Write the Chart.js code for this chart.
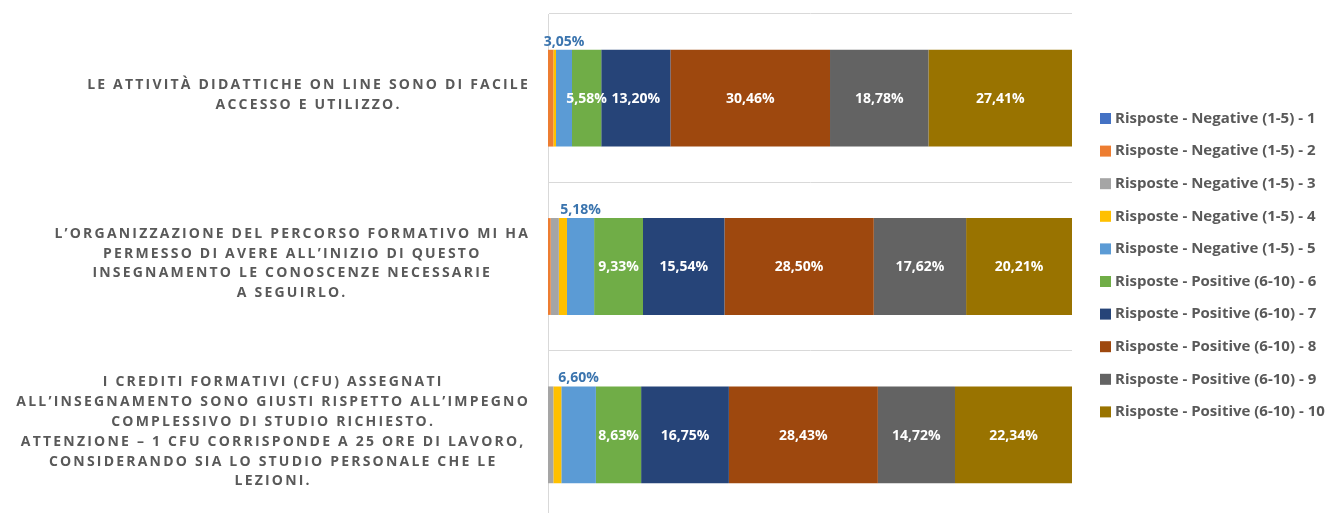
<!DOCTYPE html>
<html>
<head>
<meta charset="utf-8">
<script src="https://cdn.jsdelivr.net/npm/chart.js@4.4.0/dist/chart.umd.min.js"></script>
<style>
  html, body { margin: 0; padding: 0; background: #fff; overflow: hidden; }
  #wrap { width: 1332px; height: 519px; }
</style>
</head>
<body>
<div id="wrap"><canvas id="barchart"></canvas></div>
<script>
// Questions (one entry per line of the label)
const categories = [
  ['LE ATTIVITÀ DIDATTICHE ON LINE SONO DI FACILE', 'ACCESSO E UTILIZZO.'],
  ['L’ORGANIZZAZIONE DEL PERCORSO FORMATIVO MI HA', 'PERMESSO DI AVERE ALL’INIZIO DI QUESTO', 'INSEGNAMENTO LE CONOSCENZE NECESSARIE', 'A SEGUIRLO.'],
  ['I CREDITI FORMATIVI (CFU) ASSEGNATI', 'ALL’INSEGNAMENTO SONO GIUSTI RISPETTO ALL’IMPEGNO', 'COMPLESSIVO DI STUDIO RICHIESTO.', 'ATTENZIONE – 1 CFU CORRISPONDE A 25 ORE DI LAVORO,', 'CONSIDERANDO SIA LO STUDIO PERSONALE CHE LE', 'LEZIONI.']
];

const seriesNames = [
  'Risposte - Negative (1-5) - 1',
  'Risposte - Negative (1-5) - 2',
  'Risposte - Negative (1-5) - 3',
  'Risposte - Negative (1-5) - 4',
  'Risposte - Negative (1-5) - 5',
  'Risposte - Positive (6-10) - 6',
  'Risposte - Positive (6-10) - 7',
  'Risposte - Positive (6-10) - 8',
  'Risposte - Positive (6-10) - 9',
  'Risposte - Positive (6-10) - 10'
];

const seriesColors = ['#4472C4', '#ED7D31', '#A5A5A5', '#FFC000', '#5B9BD5', '#70AD47', '#264478', '#9E480E', '#636363', '#997300'];

// Percentages per score, one value per question
const score1 = [0, 0, 0];
const score2 = [1.02, 0.52, 0];
const score3 = [0, 1.55, 1.02];
const score4 = [0.51, 1.55, 1.52];
const score5 = [3.05, 5.18, 6.60];
const score6 = [5.58, 9.33, 8.63];
const score7 = [13.20, 15.54, 16.75];
const score8 = [30.46, 28.50, 28.43];
const score9 = [18.78, 17.62, 14.72];
const score10 = [27.41, 20.21, 22.34];

const seriesValues = [score1, score2, score3, score4, score5, score6, score7, score8, score9, score10];

const fmt = v => v.toFixed(2).replace('.', ',') + '%';

// value labels: score 5 above the bar, scores 6-10 inside
const valueLabels = {
  id: 'valueLabels',
  afterDatasetsDraw(chart) {
    const ctx = chart.ctx;
    ctx.save();
    ctx.font = 'bold 14px "Open Sans"';
    ctx.textAlign = 'center';
    chart.data.datasets.forEach((ds, di) => {
      if (di < 4) return;
      const meta = chart.getDatasetMeta(di);
      meta.data.forEach((bar, i) => {
        const cx = (bar.x + bar.base) / 2;
        if (di === 4) {
          ctx.fillStyle = '#3A74AE';
          ctx.textBaseline = 'bottom';
          ctx.fillText(fmt(ds.data[i]), cx, bar.y - bar.height / 2 - 1);
        } else {
          ctx.fillStyle = '#FFFFFF';
          ctx.textBaseline = 'middle';
          ctx.fillText(fmt(ds.data[i]), cx, bar.y + 1);
        }
      });
    });
    ctx.restore();
  }
};

// question labels: block right-aligned, lines centred in the block
const questionLabels = {
  id: 'questionLabels',
  afterDraw(chart) {
    const ctx = chart.ctx;
    const y = chart.scales.y;
    ctx.save();
    ctx.font = 'bold 14px "Open Sans"';
    ctx.letterSpacing = '2.2px';
    ctx.fillStyle = '#595959';
    ctx.textAlign = 'center';
    ctx.textBaseline = 'middle';
    const lineH = 19.8;
    categories.forEach((lines, i) => {
      const maxW = Math.max(...lines.map(l => ctx.measureText(l).width));
      const cx = 530 - maxW / 2;
      const cy = y.getPixelForValue(i) - 3;
      lines.forEach((l, k) => {
        ctx.fillText(l, cx, cy + (k - (lines.length - 1) / 2) * lineH);
      });
    });
    ctx.restore();
  }
};

// legend on the right
const sideLegend = {
  id: 'sideLegend',
  afterDraw(chart) {
    const ctx = chart.ctx;
    ctx.save();
    ctx.font = 'bold 15px "Open Sans"';
    ctx.textBaseline = 'middle';
    ctx.textAlign = 'left';
    seriesNames.forEach((name, i) => {
      const cy = 118.5 + i * 32.6;
      ctx.fillStyle = seriesColors[i];
      ctx.fillRect(1100, cy - 5.5, 11, 11);
      ctx.fillStyle = '#595959';
      ctx.fillText(name, 1115, cy);
    });
    ctx.restore();
  }
};

const data = {
  labels: categories.map(c => c.join(' ')),
  datasets: seriesNames.map((name, i) => ({
    label: name,
    data: seriesValues[i],
    backgroundColor: seriesColors[i],
    borderWidth: 0,
    categoryPercentage: 1,
    barPercentage: 0.575
  }))
};

new Chart(document.getElementById('barchart'), {
  type: 'bar',
  data: data,
  options: {
    indexAxis: 'y',
    responsive: true,
    maintainAspectRatio: false,
    animation: false,
    layout: { padding: { left: 548, right: 260, top: 14, bottom: 0 } },
    plugins: {
      legend: { display: false },
      tooltip: { enabled: false }
    },
    scales: {
      x: {
        stacked: true,
        min: 0,
        max: 100,
        display: false
      },
      y: {
        stacked: true,
        ticks: { display: false },
        grid: { color: '#D9D9D9', drawTicks: false, lineWidth: 1 },
        border: { color: '#D9D9D9' }
      }
    }
  },
  plugins: [valueLabels, questionLabels, sideLegend]
});
</script>
</body>
</html>
